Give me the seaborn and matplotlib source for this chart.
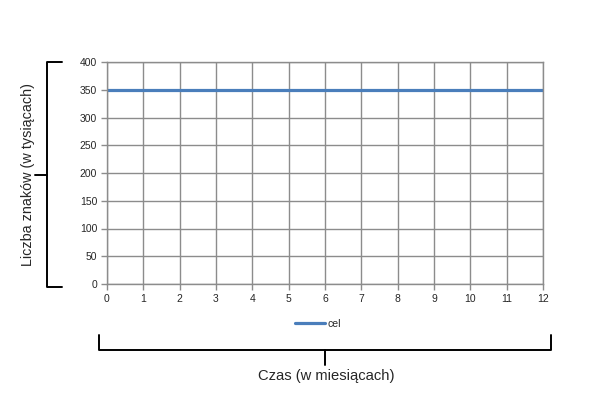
import numpy as np
import pandas as pd
import matplotlib
matplotlib.use('Agg')
import matplotlib.pyplot as plt
from matplotlib.lines import Line2D
import seaborn as sns

# data
months = list(range(0, 13))
cel = [350] * 13
series_name = 'cel'

df = pd.DataFrame({'month': months, 'value': cel, 'series': series_name})

sns.set_style('white')
plt.rcParams['font.family'] = ['Liberation Sans', 'DejaVu Sans']

fig = plt.figure(figsize=(6.11, 4.13), dpi=100)
W, H = 611, 413
ax = fig.add_axes([107 / W, 1 - 284 / H, (543 - 107) / W, (284 - 62) / H])

sns.lineplot(data=df, x='month', y='value', hue='series', palette=['#4a7ebb'],
             linewidth=2.3, ax=ax, legend=False)

ax.set_xlim(0, 12)
ax.set_ylim(0, 400)
ax.set_xticks(range(0, 13))
ax.set_yticks(range(0, 401, 50))
ax.grid(True, color='#8c8c8c', linewidth=1.0)
ax.set_axisbelow(True)
for s in ax.spines.values():
    s.set_color('#8c8c8c')
    s.set_linewidth(1.0)
ax.tick_params(axis='both', length=4, width=1.0, color='#8c8c8c', labelsize=7.5,
               pad=3, bottom=True, left=True)
ax.set_xlabel('')
ax.set_ylabel('')

# legend below
leg_line = Line2D([], [], color='#4a7ebb', linewidth=2.3)
fig.legend([leg_line], [series_name], loc='center', bbox_to_anchor=(318 / W, 1 - 324 / H),
           frameon=False, fontsize=7.5, handlelength=2.9, handletextpad=0.3)

# brackets (figure pixel coords)
def fl(xs, ys):
    fig.add_artist(Line2D([x / W for x in xs], [1 - y / H for y in ys],
                          color='black', linewidth=1.4, transform=fig.transFigure))

fl([62, 47, 47, 62], [62, 62, 287, 287])
fl([35, 47], [175, 175])
fl([99, 99, 551, 551], [335, 350, 350, 335])
fl([325, 325], [350, 365])

fig.text(28 / W, 1 - 175 / H, 'Liczba znaków (w tysiącach)', rotation=90,
         ha='center', va='center', fontsize=10.4)
fig.text(326 / W, 1 - 376 / H, 'Czas (w miesiącach)', ha='center', va='center',
         fontsize=10.6)

fig.savefig('out.png', dpi=100, facecolor='white')
